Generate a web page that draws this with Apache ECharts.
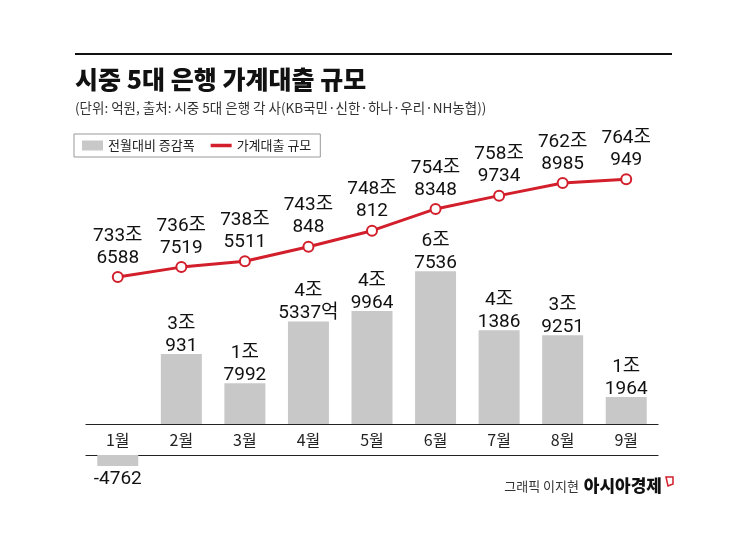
<!DOCTYPE html>
<html>
<head>
<meta charset="utf-8">
<script src="https://cdn.jsdelivr.net/npm/echarts@6/dist/echarts.min.js"></script>
<style>
  html, body { margin: 0; padding: 0; background: #fff; }
  #chart { width: 745px; height: 558px; }
</style>
</head>
<body>
<div id="chart"></div>
<script>
// 단위: 억원
const months = ["1월", "2월", "3월", "4월", "5월", "6월", "7월", "8월", "9월"];
const changeVals = [-4762, 30931, 17992, 45337, 49964, 67536, 41386, 39251, 11964];
const changeSuffix = ["", "", "", "억", "", "", "", "", ""];
const loanVals = [7336588, 7367519, 7385511, 7430848, 7480812, 7548348, 7589734, 7628985, 7640949];
const legendNames = ["전월대비 증감폭", "가계대출 규모"];

const KR = "Noto Sans CJK KR";
const NUM = "Roboto, 'Noto Sans CJK KR'";
const barColor = "#c8c8c8";
const red = "#d21f2b";

function joLabel(v, suffix) {
  if (Math.abs(v) < 10000) return (v < 0 ? "-" : "") + Math.abs(v);
  return Math.floor(v / 10000) + "조\n" + (v % 10000) + (suffix || "");
}

var myChart = echarts.init(document.getElementById("chart"));
var option = {
  backgroundColor: "#fff",
  animation: false,
  textStyle: { fontFamily: KR },
  title: {
    text: "시중 5대 은행 가계대출 규모",
    subtext: "(단위: 억원, 출처: 시중 5대 은행 각 사(KB국민·신한·하나·우리·NH농협))",
    left: 70,
    top: 62,
    itemGap: 9,
    textStyle: { fontFamily: KR, fontSize: 25, fontWeight: 900, color: "#111" },
    subtextStyle: { fontFamily: KR, fontSize: 13.5, color: "#333" }
  },
  legend: {
    left: 74,
    top: 134,
    orient: "horizontal",
    borderColor: "#999",
    borderWidth: 1,
    padding: [5, 9, 5, 8],
    itemWidth: 21,
    itemHeight: 10,
    itemGap: 16,
    textStyle: { fontFamily: KR, fontSize: 13, color: "#222" },
    data: [
      { name: legendNames[0], icon: "rect", itemStyle: { color: barColor } },
      {
        name: legendNames[1],
        icon: "path://M0,0 L21,0 L21,3.5 L0,3.5 Z",
        itemStyle: { color: red, borderWidth: 0 }
      }
    ]
  },
  grid: [
    { left: 86, right: 87, top: 243, bottom: 134 },
    { left: 86, right: 87, top: 455, bottom: 80 },
    { left: 86, right: 87, top: 128, bottom: 237 }
  ],
  xAxis: [
    {
      type: "category", gridIndex: 0, data: months,
      axisLine: { lineStyle: { color: "#222", width: 1.2 } },
      axisTick: { show: false },
      axisLabel: { fontFamily: KR, fontSize: 16, color: "#222", margin: 8 }
    },
    {
      type: "category", gridIndex: 1, data: months, position: "top",
      axisLine: { lineStyle: { color: "#222", width: 1.2 } },
      axisTick: { show: false },
      axisLabel: { show: false }
    },
    { type: "category", gridIndex: 2, data: months, show: false }
  ],
  yAxis: [
    { type: "value", gridIndex: 0, min: 0, max: 80000, show: false },
    { type: "value", gridIndex: 1, min: -10000, max: 0, show: false },
    { type: "value", gridIndex: 2, min: 7200000, max: 7800000, show: false }
  ],
  series: [
    {
      name: legendNames[0],
      type: "bar",
      xAxisIndex: 0,
      yAxisIndex: 0,
      barWidth: 41,
      itemStyle: { color: barColor },
      data: changeVals.map((v) => (v > 0 ? v : "-")),
      label: {
        show: true,
        position: "top",
        distance: -3,
        fontFamily: NUM,
        fontSize: 19,
        lineHeight: 22,
        color: "#111",
        formatter: (p) => joLabel(p.value, changeSuffix[p.dataIndex])
      }
    },
    {
      name: legendNames[0],
      type: "bar",
      xAxisIndex: 1,
      yAxisIndex: 1,
      barWidth: 41,
      itemStyle: { color: barColor },
      data: changeVals.map((v) => (v < 0 ? v : "-")),
      label: {
        show: true,
        position: "bottom",
        distance: 4,
        fontFamily: NUM,
        fontSize: 19,
        color: "#111",
        formatter: (p) => joLabel(p.value, changeSuffix[p.dataIndex])
      }
    },
    {
      name: legendNames[1],
      type: "line",
      xAxisIndex: 2,
      yAxisIndex: 2,
      data: loanVals,
      symbol: "circle",
      symbolSize: 10,
      lineStyle: { color: red, width: 3 },
      itemStyle: { color: "#fff", borderColor: red, borderWidth: 2 },
      label: {
        show: true,
        position: "top",
        distance: 2,
        fontFamily: NUM,
        fontSize: 19,
        lineHeight: 22,
        color: "#111",
        formatter: (p) => joLabel(p.value)
      }
    }
  ],
  graphic: [
    {
      type: "line",
      shape: { x1: 75, y1: 54, x2: 672, y2: 54 },
      style: { stroke: "#111", lineWidth: 2 }
    },
    {
      type: "text",
      right: 166,
      top: 480,
      style: { text: "그래픽 이지현", font: "13px 'Noto Sans CJK KR'", fill: "#333" }
    },
    {
      type: "text",
      right: 83,
      top: 477,
      style: { text: "아시아경제", font: "900 17px 'Noto Sans CJK KR'", fill: "#111" }
    },
    {
      type: "polygon",
      shape: { points: [[666, 477], [673, 477], [673, 484], [668, 486]] },
      style: { fill: "none", stroke: red, lineWidth: 1.5 }
    }
  ]
};
myChart.setOption(option);
</script>
</body>
</html>
